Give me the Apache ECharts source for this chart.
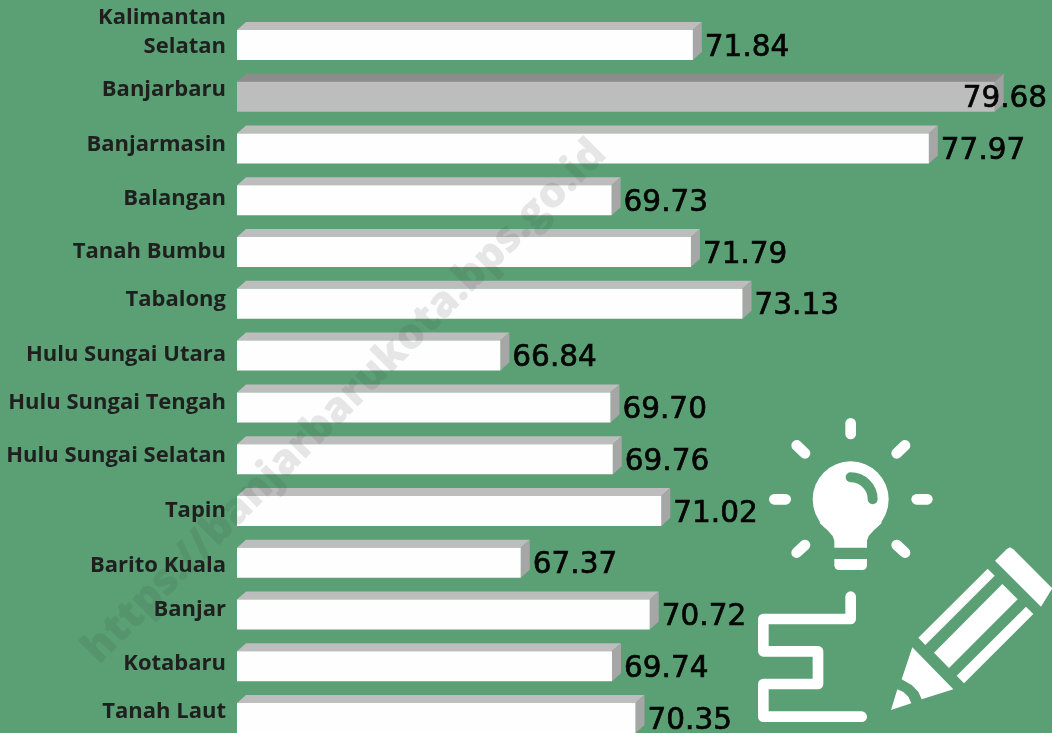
<!DOCTYPE html>
<html>
<head>
<meta charset="utf-8">
<style>
  html, body { margin: 0; height: 100%; background: #5aa074; }
  #chart { width: 1052px; height: 733px; }
</style>
</head>
<body>
<div id="chart"></div>
<script src="https://cdn.jsdelivr.net/npm/echarts@6/dist/echarts.min.js"></script>
<script>
var categories = ['Kalimantan\nSelatan', 'Banjarbaru', 'Banjarmasin', 'Balangan', 'Tanah Bumbu', 'Tabalong',
  'Hulu Sungai Utara', 'Hulu Sungai Tengah', 'Hulu Sungai Selatan', 'Tapin', 'Barito Kuala', 'Banjar', 'Kotabaru', 'Tanah Laut'];
var values = [71.84, 79.68, 77.97, 69.73, 71.79, 73.13, 66.84, 69.70, 69.76, 71.02, 67.37, 70.72, 69.74, 70.35];
var highlighted = 'Banjarbaru';
// the names sit a little off their bars in the original
var nameNudge = [-13, -7, -4, -2, 0, -4, -1, -5, -3, 0, 3, -5, -3, -6];
var valueNudgeX = [0, -44, 0, 0, 0, 0, 0, 0, 0, 0, 0, 0, 0, 0];

var WHITE = '#fefefe';
var depthX = 9, depthY = 8;

function renderBar(params, api) {
  var i = params.dataIndex;
  var start = api.coord([60, i]);
  var end = api.coord([api.value(0), i]);
  var grey = categories[i] === highlighted;
  var h = 30;
  var top = end[1] - h / 2;
  var x0 = start[0], x1 = end[0];
  return {
    type: 'group',
    children: [
      { type: 'polygon', shape: { points: [[x0, top], [x0 + depthX, top - depthY], [x1 + depthX, top - depthY], [x1, top]] },
        style: { fill: grey ? '#8c8c8c' : '#bdbdbd' } },
      { type: 'polygon', shape: { points: [[x1, top], [x1 + depthX, top - depthY], [x1 + depthX, top + h - depthY], [x1, top + h]] },
        style: { fill: grey ? '#a0a0a0' : '#a6a6a6' } },
      { type: 'rect', shape: { x: x0, y: top, width: x1 - x0, height: h },
        style: { fill: grey ? '#bdbdbd' : WHITE } }
    ]
  };
}

function renderValue(params, api) {
  var i = params.dataIndex;
  var end = api.coord([api.value(0), i]);
  return {
    type: 'text',
    style: {
      x: end[0] + 12 + valueNudgeX[i], y: end[1] + 3,
      text: values[i].toFixed(2),
      fill: '#050505', stroke: '#050505', lineWidth: 0.7, font: '29.5px "DejaVu Sans"',
      align: 'left', verticalAlign: 'middle'
    }
  };
}

function renderName(params, api) {
  var i = params.dataIndex;
  var c = api.coord([60, i]);
  return {
    type: 'text',
    style: {
      x: c[0] - 11, y: c[1] + nameNudge[i],
      text: categories[i], fill: '#1f1f1f',
      font: 'bold 22px "Open Sans"', lineHeight: 29,
      align: 'right', verticalAlign: 'middle'
    }
  };
}

// lightbulb and pencil icons, drawn in the crop's 3x space
function line(pts, width) {
  return { type: 'polyline', shape: { points: pts },
    style: { stroke: '#fff', lineWidth: width, lineCap: 'round', lineJoin: 'round', fill: null } };
}
function poly(pts) {
  return { type: 'polygon', shape: { points: pts }, style: { fill: '#fff' } };
}
var icons = {
  type: 'group', x: 740, y: 410, scaleX: 1 / 3, scaleY: 1 / 3, z: 30,
  children: [
    line([[332, 40], [332, 72]], 32),
    line([[470, 130], [495, 106]], 32),
    line([[530, 268], [562, 268]], 32),
    line([[470, 405], [495, 428]], 32),
    line([[195, 405], [170, 428]], 32),
    line([[103, 268], [137, 268]], 32),
    line([[170, 106], [195, 130]], 32),
    { type: 'circle', shape: { cx: 332, cy: 268, r: 114 }, style: { fill: '#fff' } },
    poly([[283, 413], [283, 392], [278, 378], [264, 362], [238, 338], [300, 300], [364, 300], [426, 338], [400, 362], [386, 378], [381, 392], [381, 413]]),
    { type: 'arc', shape: { cx: 332, cy: 268, r: 66, startAngle: -Math.PI / 2, endAngle: 0 }, z2: 2,
      style: { stroke: '#5aa074', lineWidth: 30, lineCap: 'round', fill: null } },
    { type: 'rect', shape: { x: 283, y: 447, width: 98, height: 33, r: [0, 0, 14, 14] }, style: { fill: '#fff' } },
    line([[332, 560], [332, 627], [70, 627], [70, 724], [234, 724], [234, 822], [70, 822], [70, 920], [365, 920]], 32),
    poly([[765, 452], [800, 418], [810, 412], [820, 418], [937, 535], [903, 590]]),
    poly([[535, 683], [743, 476], [764, 497], [556, 705]]),
    poly([[582, 728], [787, 522], [833, 568], [627, 774]]),
    poly([[650, 797], [858, 590], [880, 612], [672, 820]]),
    poly([[517, 712], [640, 838], [545, 868], [535, 845], [515, 825], [485, 808]]),
    poly([[453, 900], [472, 838], [490, 846], [505, 860], [514, 880]])
  ]
};
var watermark = {
  type: 'text', x: 345, y: 402, rotation: Math.PI / 4, z: 20,
  style: {
    text: 'https://banjarbarukota.bps.go.id',
    fill: 'rgba(60,70,60,0.13)', font: '800 42.5px "Open Sans"',
    align: 'center', verticalAlign: 'middle'
  }
};

var chart = echarts.init(document.getElementById('chart'));
chart.setOption({
  backgroundColor: '#5aa074',
  animation: false,
  grid: { left: 237, top: 19, width: 770, height: 725, outerBoundsMode: 'none' },
  xAxis: { type: 'value', min: 60, max: 80, show: false },
  yAxis: { type: 'category', inverse: true, data: categories, show: false },
  graphic: [watermark, icons],
  series: [
    { type: 'custom', name: 'bars', clip: false, renderItem: renderBar, data: values, encode: { x: 0 }, z: 2 },
    { type: 'custom', name: 'names', clip: false, renderItem: renderName, data: values, encode: { x: 0 }, z: 3 },
    { type: 'custom', name: 'values', clip: false, renderItem: renderValue, data: values, encode: { x: 0 }, z: 4 }
  ]
});
</script>
</body>
</html>
